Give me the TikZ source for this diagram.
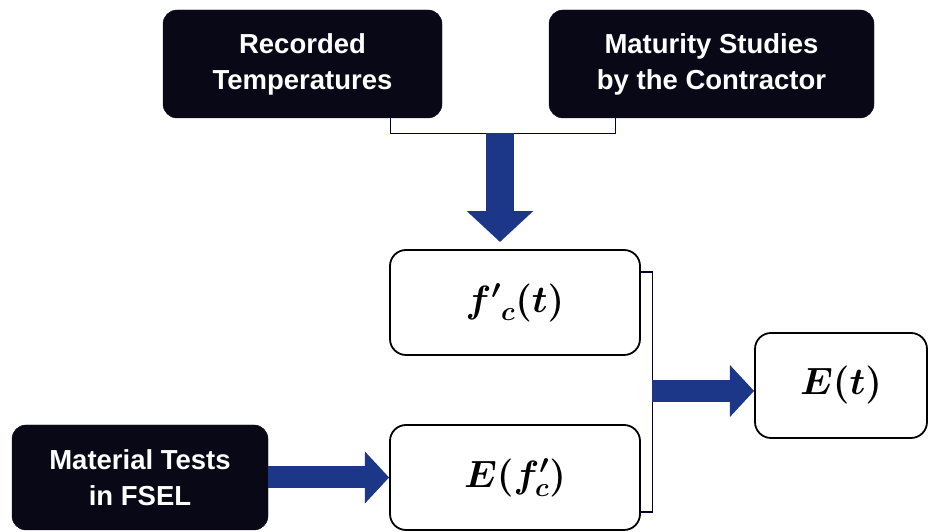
\RequirePackage{fix-cm}
\documentclass[tikz,border=0pt]{standalone}
\usepackage{fontspec}
\setmainfont{Liberation Sans}
\usepackage{amsmath,bm}
\usetikzlibrary{arrows.meta,calc}
\definecolor{boxblack}{RGB}{8,8,22}
\definecolor{arrowblue}{RGB}{28,55,135}
\begin{document}
\begin{tikzpicture}[x=1pt,y=1pt,
  darkbox/.style={rectangle,rounded corners=14pt,fill=boxblack,draw=boxblack,text=white,
    font=\fontsize{27.5}{36}\selectfont\bfseries,align=center,inner sep=0pt},
  mathbox/.style={rectangle,rounded corners=16pt,fill=white,draw=black,line width=1.8pt,
    font=\fontsize{38}{44}\selectfont,inner sep=0pt},
  bigarrow/.style={draw=arrowblue,line width=#1,-{Triangle[width=2.3*#1,length=1.1*#1]}},
  bracketline/.style={draw=black!80!blue,line width=1.1pt}
]
\useasboundingbox (0,0) rectangle (930,532);
\node[darkbox,minimum width=279,minimum height=108] (rec) at (302.5,468) {Recorded\\Temperatures};
\node[darkbox,minimum width=325,minimum height=108] (mat) at (711.5,468) {Maturity Studies\\by the Contractor};
\node[mathbox,minimum width=250,minimum height=105] (fc) at (515,229.5) {$\bm{{f'}_{c}(t)}$};
\node[mathbox,minimum width=250,minimum height=105] (ef) at (515,54.5) {$\bm{E(f'_{c})}$};
\node[mathbox,minimum width=172,minimum height=105] (et) at (841,146.5) {$\bm{E(t)}$};
\node[darkbox,minimum width=256,minimum height=105] (mt) at (140,54.5) {Material Tests\\in FSEL};
% top bracket
\coordinate (tl) at ([xshift=-52pt]rec.south east);
\coordinate (tr) at ([xshift=67pt]mat.south west);
\draw[bracketline] (tl) -- ++(0,-15) -| (tr);
\coordinate (down) at (500,399);
\coordinate (downend) at (500,290);
\draw[bigarrow=28pt] (down) -- (downend);
% right bracket
\coordinate (rt) at ([yshift=30.5pt]fc.east);
\coordinate (rb) at ([yshift=-34.5pt]ef.east);
\draw[bracketline] (rt) -- ++(12,0) |- (rb);
\coordinate (rmid) at (652,141);
\draw[bigarrow=22pt] (rmid) -- (rmid -| et.west);
% material arrow
\draw[bigarrow=22pt] (mt.east) -- (ef.west);
\end{tikzpicture}
\end{document}
